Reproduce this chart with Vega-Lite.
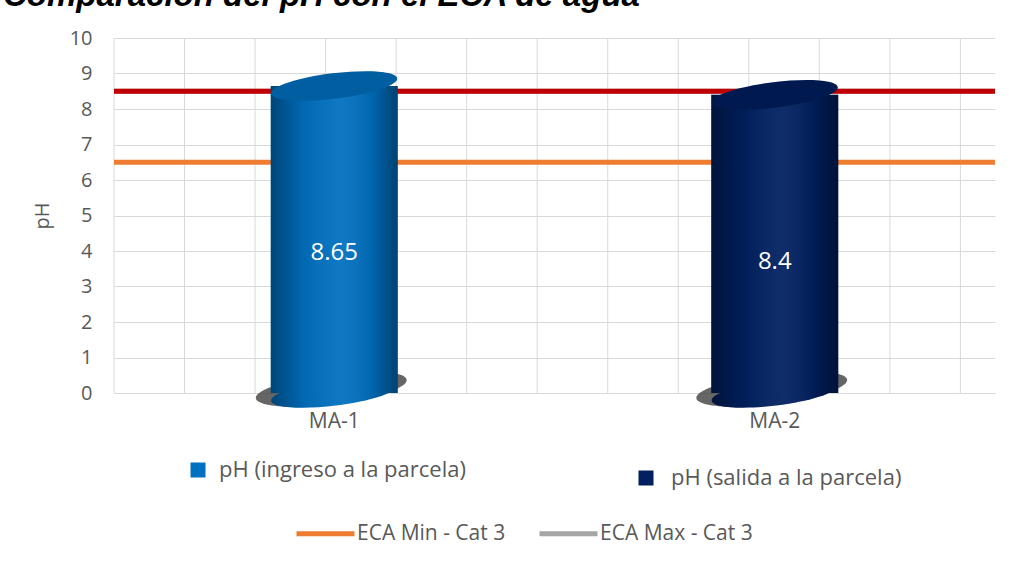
{
  "$schema": "https://vega.github.io/schema/vega-lite/v6.json",
  "width": 881,
  "height": 355,
  "autosize": {"type": "none"},
  "padding": {"left": 114, "top": 38, "right": 29, "bottom": 172},
  "background": "#ffffff",
  "title": {
    "text": "Comparación del pH con el ECA de agua",
    "anchor": "start",
    "frame": "group",
    "font": "Liberation Sans",
    "fontSize": 33,
    "fontStyle": "italic",
    "fontWeight": "bold",
    "color": "#000000",
    "baseline": "alphabetic",
    "offset": 0,
    "dx": -111,
    "dy": 11
  },
  "datasets": {
    "muestras": [
      {"muestra": "MA-1", "serie": "pH (ingreso a la parcela)", "ph": 8.65},
      {"muestra": "MA-2", "serie": "pH (salida a la parcela)", "ph": 8.4}
    ],
    "eca": [
      {"serie": "ECA Min - Cat 3", "ph": 6.5},
      {"serie": "ECA Max - Cat 3", "ph": 8.5}
    ],
    "rejilla": [
      {"k": 0}, {"k": 1}, {"k": 2}, {"k": 3}, {"k": 4}, {"k": 5}, {"k": 6},
      {"k": 7}, {"k": 8}, {"k": 9}, {"k": 10}, {"k": 11}, {"k": 12}
    ]
  },
  "config": {
    "view": {"stroke": null},
    "font": "Open Sans"
  },
  "resolve": {"scale": {"x": "independent"}},
  "layer": [
    {
      "data": {"name": "rejilla"},
      "mark": {"type": "rule", "color": "#D9D9D9", "strokeWidth": 1},
      "encoding": {
        "x": {"field": "k", "type": "quantitative", "scale": {"domain": [0, 12.49], "nice": false, "zero": false}, "axis": null}
      }
    },
    {
      "encoding": {
        "x": {
          "field": "muestra",
          "type": "nominal",
          "scale": {"paddingInner": 0, "paddingOuter": 0},
          "axis": {
            "title": null,
            "labelAngle": 0,
            "labelColor": "#595959",
            "labelFontSize": 21,
            "labelPadding": 17,
            "ticks": false,
            "domainColor": "#D9D9D9",
            "domainWidth": 1
          }
        },
        "y": {
          "field": "ph",
          "type": "quantitative",
          "scale": {"domain": [0, 10], "nice": false},
          "axis": {
            "title": "pH",
            "titleColor": "#595959",
            "titleFontSize": 20,
            "titleFontWeight": "normal",
            "titlePadding": 17,
            "values": [0, 1, 2, 3, 4, 5, 6, 7, 8, 9, 10],
            "labelColor": "#595959",
            "labelFontSize": 20,
            "labelPadding": 22,
            "ticks": false,
            "domain": false,
            "gridColor": "#D9D9D9",
            "gridWidth": 1
          }
        }
      },
      "layer": [
        {
          "data": {"name": "eca"},
          "mark": {"type": "rule", "strokeWidth": 5},
          "encoding": {
            "x": null,
            "stroke": {
              "field": "serie",
              "type": "nominal",
              "scale": {"domain": ["ECA Min - Cat 3", "ECA Max - Cat 3"], "range": ["#ED7D31", "#A5A5A5"]},
              "legend": {
                "title": null,
                "orient": "none",
                "direction": "horizontal",
                "legendX": 180,
                "legendY": 464,
                "padding": 0,
                "symbolType": "stroke",
                "symbolSize": 3364,
                "symbolStrokeWidth": 5,
                "labelFontSize": 21,
                "labelColor": "#595959",
                "labelOffset": 0,
                "columnPadding": 23
              }
            }
          }
        },
        {
          "data": {"name": "eca"},
          "transform": [{"filter": "datum.serie === 'ECA Max - Cat 3'"}],
          "mark": {"type": "rule", "strokeWidth": 5, "color": "#C00000"},
          "encoding": {"x": null}
        },
        {
          "data": {"name": "muestras"},
          "layer": [
            {
              "mark": {
                "type": "point",
                "shape": "M -1 0 A 1 0.2 0 1 0 1 0 A 1 0.2 0 1 0 -1 0 Z",
                "size": 23104,
                "angle": -7,
                "filled": true,
                "fill": "#333333",
                "opacity": 0.75,
                "xOffset": -3,
                "yOffset": -4
              },
              "encoding": {"y": {"datum": 0, "type": "quantitative"}}
            },
            {
              "mark": {
                "type": "point",
                "shape": "M -1 0 A 1 0.2 0 1 0 1 0 A 1 0.2 0 1 0 -1 0 Z",
                "size": 16129,
                "angle": -7,
                "filled": true,
                "opacity": 1
              },
              "encoding": {
                "y": {"datum": 0, "type": "quantitative"},
                "color": {"field": "serie", "type": "nominal"}
              }
            },
            {
              "mark": {
                "type": "point",
                "shape": "M -1 0 A 1 0.2 0 1 0 1 0 A 1 0.2 0 1 0 -1 0 Z",
                "size": 16129,
                "angle": -7,
                "filled": true,
                "opacity": 1,
                "fill": {
                  "gradient": "linear", "x1": 0, "x2": 1, "y1": 0, "y2": 0,
                  "stops": [
                    {"offset": 0, "color": "rgba(0,0,0,0.38)"},
                    {"offset": 0.25, "color": "rgba(0,0,0,0.08)"},
                    {"offset": 0.55, "color": "rgba(255,255,255,0.06)"},
                    {"offset": 0.8, "color": "rgba(0,0,0,0.1)"},
                    {"offset": 1, "color": "rgba(0,0,0,0.42)"}
                  ]
                }
              },
              "encoding": {"y": {"datum": 0, "type": "quantitative"}}
            },
            {
              "mark": {"type": "bar", "width": 127},
              "encoding": {
                "y": {"field": "ph", "type": "quantitative", "stack": null},
                "color": {
                  "field": "serie",
                  "type": "nominal",
                  "scale": {"domain": ["pH (ingreso a la parcela)", "pH (salida a la parcela)"], "range": ["#0070C0", "#002060"]},
                  "legend": {
                    "title": null,
                    "orient": "none",
                    "legendX": 73,
                    "legendY": 421,
                    "padding": 0,
                    "values": ["pH (ingreso a la parcela)"],
                    "symbolType": "square",
                    "symbolSize": 225,
                    "symbolStrokeWidth": 0,
                    "labelFontSize": 22,
                    "labelColor": "#595959",
                    "labelOffset": 10,
                    "labelLimit": 400
                  }
                }
              }
            },
            {
              "mark": {
                "type": "bar",
                "width": 127,
                "fill": {
                  "gradient": "linear", "x1": 0, "x2": 1, "y1": 0, "y2": 0,
                  "stops": [
                    {"offset": 0, "color": "rgba(0,0,0,0.38)"},
                    {"offset": 0.25, "color": "rgba(0,0,0,0.08)"},
                    {"offset": 0.55, "color": "rgba(255,255,255,0.06)"},
                    {"offset": 0.8, "color": "rgba(0,0,0,0.1)"},
                    {"offset": 1, "color": "rgba(0,0,0,0.42)"}
                  ]
                }
              },
              "encoding": {"y": {"field": "ph", "type": "quantitative", "stack": null}}
            },
            {
              "mark": {
                "type": "point",
                "shape": "M -1 0 A 1 0.2 0 1 0 1 0 A 1 0.2 0 1 0 -1 0 Z",
                "size": 16129,
                "angle": -7,
                "filled": true,
                "opacity": 1
              },
              "encoding": {
                "y": {"field": "ph", "type": "quantitative"},
                "fill": {
                  "field": "muestra",
                  "type": "nominal",
                  "scale": {"domain": ["MA-1", "MA-2"], "range": ["#0070C0", "#002060"]},
                  "legend": {
                    "title": null,
                    "orient": "none",
                    "legendX": 521,
                    "legendY": 429,
                    "padding": 0,
                    "values": ["MA-2"],
                    "labelExpr": "'pH (salida a la parcela)'",
                    "symbolType": "square",
                    "symbolSize": 225,
                    "symbolOpacity": 1,
                    "symbolStrokeWidth": 0,
                    "labelFontSize": 22,
                    "labelColor": "#595959",
                    "labelOffset": 14,
                    "labelLimit": 400
                  }
                }
              }
            },
            {
              "mark": {
                "type": "point",
                "shape": "M -1 0 A 1 0.2 0 1 0 1 0 A 1 0.2 0 1 0 -1 0 Z",
                "size": 16129,
                "angle": -7,
                "filled": true,
                "fill": "#000000",
                "opacity": 0.16
              },
              "encoding": {"y": {"field": "ph", "type": "quantitative"}}
            },
            {
              "mark": {"type": "text", "color": "#ffffff", "fontSize": 24, "dy": 167, "baseline": "middle"},
              "encoding": {
                "y": {"field": "ph", "type": "quantitative"},
                "text": {"field": "ph", "type": "quantitative"}
              }
            }
          ]
        }
      ]
    }
  ]
}
